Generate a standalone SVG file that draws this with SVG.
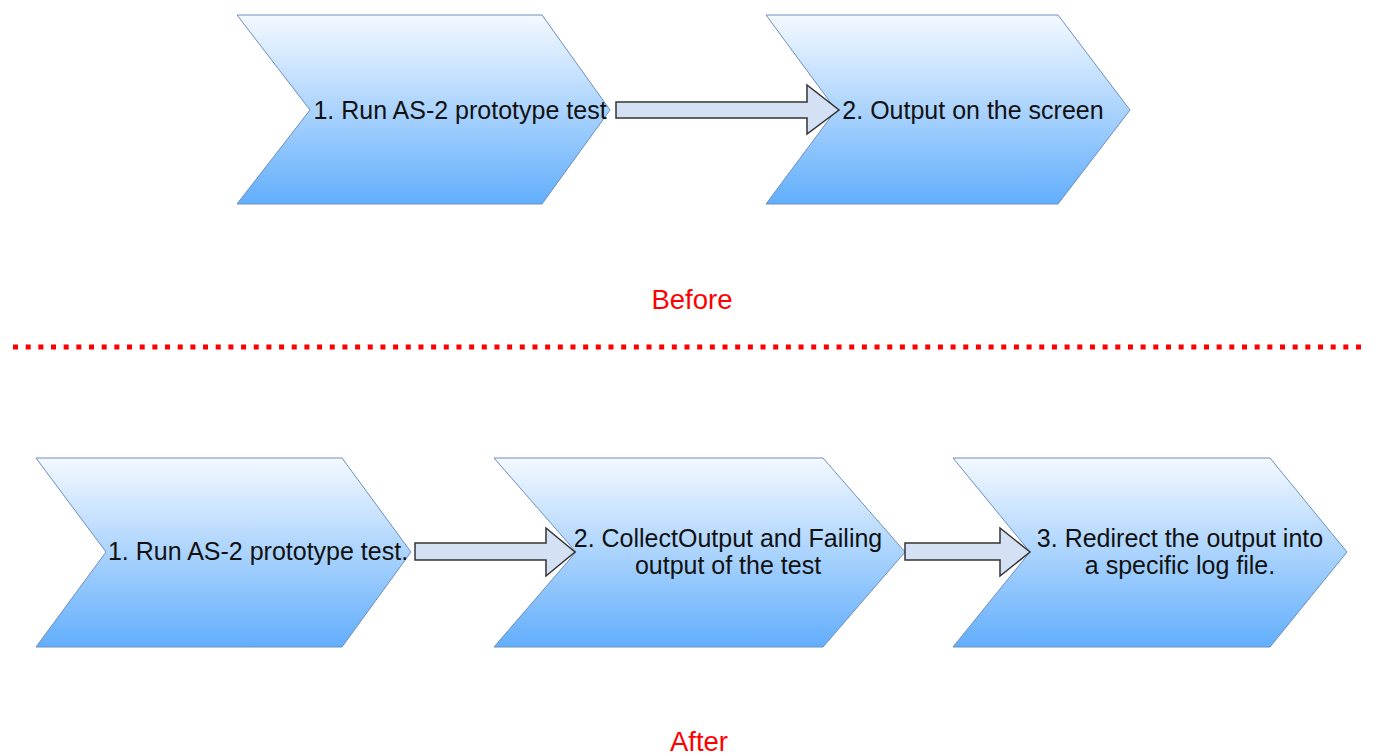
<svg xmlns="http://www.w3.org/2000/svg" width="1375" height="755" viewBox="0 0 1375 755">
<defs>
<linearGradient id="g" x1="0" y1="0" x2="0" y2="1">
<stop offset="0" stop-color="#f4f9ff"/>
<stop offset="1" stop-color="#62aefc"/>
</linearGradient>
</defs>
<style>
.step{fill:url(#g);stroke:#6c8ebf;stroke-width:1}
.t{font-family:"Liberation Sans",Arial,Helvetica,sans-serif;font-size:25px;fill:#111;text-anchor:middle}
.lbl{font-family:"Liberation Sans",Arial,Helvetica,sans-serif;font-size:27.5px;fill:#ff0000;text-anchor:middle}
.arr{fill:#d4e1f5;stroke:#333;stroke-width:1.5;stroke-linejoin:miter}
</style>
<rect width="1375" height="755" fill="#fff"/>
<g id="before-1">
<polygon class="step" points="237,15 542,15 610,110 542,204 237,204 310,110"/>
<text class="t" x="460" y="119">1. Run AS-2 prototype test</text>
</g>
<g id="before-2">
<polygon class="step" points="766,15 1058,15 1130,110 1058,204 766,204 836,110"/>
<text class="t" x="973" y="119">2. Output on the screen</text>
</g>
<g id="after-1">
<polygon class="step" points="36,458 342,458 411,552 342,647 36,647 106,552"/>
<text class="t" x="258" y="560">1. Run AS-2 prototype test.</text>
</g>
<g id="after-2">
<polygon class="step" points="494,458 823,458 905,552 823,647 494,647 576,552"/>
<text class="t" x="728" y="547">2. CollectOutput and Failing</text>
<text class="t" x="728" y="574">output of the test</text>
</g>
<g id="after-3">
<polygon class="step" points="953,458 1270,458 1347,552 1270,647 953,647 1030,552"/>
<text class="t" x="1180" y="547">3. Redirect the output into</text>
<text class="t" x="1180" y="574">a specific log file.</text>
</g>
<g id="connectors">
<polygon class="arr" points="616,102 807,102 807,85 839,110 807,134 807,118 616,118"/>
<polygon class="arr" points="415,543 546,543 546,528 575,552 546,576 546,560 415,560"/>
<polygon class="arr" points="905,543 1000,543 1000,528 1030,552 1000,576 1000,560 905,560"/>
</g>
<g id="labels">
<text class="lbl" x="692" y="309">Before</text>
<line x1="13" y1="347" x2="1366" y2="347" stroke="#ff0000" stroke-width="5" stroke-dasharray="5 7.67"/>
<text class="lbl" x="699" y="751">After</text>
</g>
</svg>
